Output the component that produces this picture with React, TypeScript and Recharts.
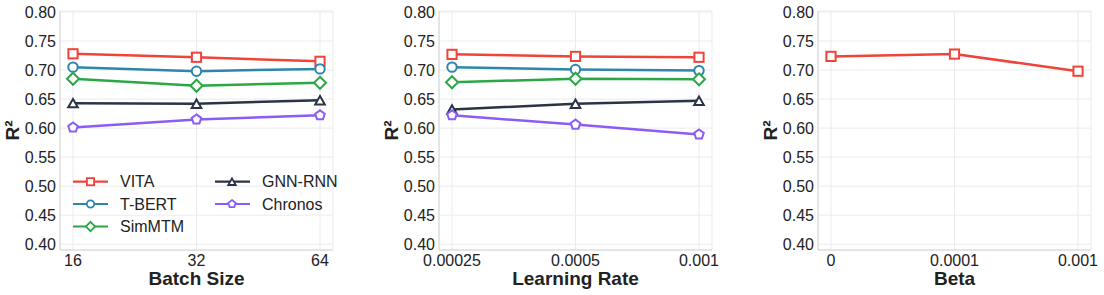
import React from 'react';
import { LineChart, Line, XAxis, YAxis, CartesianGrid } from 'recharts';

// ---- data ----
const batchSizes = ['16', '32', '64'];
const vitaBatch = [0.728, 0.722, 0.715];
const tbertBatch = [0.705, 0.698, 0.702];
const simmtmBatch = [0.685, 0.673, 0.678];
const gnnBatch = [0.643, 0.642, 0.648];
const chronosBatch = [0.601, 0.615, 0.622];

const learningRates = ['0.00025', '0.0005', '0.001'];
const vitaLR = [0.727, 0.7235, 0.722];
const tbertLR = [0.705, 0.701, 0.699];
const simmtmLR = [0.679, 0.685, 0.684];
const gnnLR = [0.632, 0.642, 0.647];
const chronosLR = [0.622, 0.606, 0.589];

const betas = ['0', '0.0001', '0.001'];
const vitaBeta = [0.7235, 0.7275, 0.698];

const yTicks = [0.4, 0.45, 0.5, 0.55, 0.6, 0.65, 0.7, 0.75, 0.8];

// ---- styling ----
const FONT = '"Liberation Sans", Arial, Helvetica, sans-serif';
const GRID = '#ebebeb';
const BORDER = '#d4d4d4';
const TEXT = '#222222';

type Shape = 'square' | 'circle' | 'diamond' | 'triangle' | 'pentagon';
const SERIES: { key: string; name: string; color: string; shape: Shape }[] = [
  { key: 'vita', name: 'VITA', color: '#F0433A', shape: 'square' },
  { key: 'tbert', name: 'T-BERT', color: '#2E86AB', shape: 'circle' },
  { key: 'simmtm', name: 'SimMTM', color: '#2BA744', shape: 'diamond' },
  { key: 'gnn', name: 'GNN-RNN', color: '#2B3446', shape: 'triangle' },
  { key: 'chronos', name: 'Chronos', color: '#8B5CF6', shape: 'pentagon' },
];

function markerEl(shape: Shape, cx: number, cy: number, color: string, s: number, sw: number, key?: any) {
  const common = { fill: '#ffffff', stroke: color, strokeWidth: sw, key };
  if (cx == null || cy == null) return <g key={key} />;
  switch (shape) {
    case 'square': {
      const h = 4.6 * s;
      return <rect {...common} x={cx - h} y={cy - h} width={2 * h} height={2 * h} />;
    }
    case 'circle':
      return <circle {...common} cx={cx} cy={cy} r={4.7 * s} />;
    case 'diamond': {
      const d = 6 * s;
      return <polygon {...common} points={`${cx},${cy - d} ${cx + d},${cy} ${cx},${cy + d} ${cx - d},${cy}`} />;
    }
    case 'triangle': {
      const w = 4.8 * s;
      const h = 4.2 * s;
      return <polygon {...common} strokeLinejoin="miter" points={`${cx},${cy - h} ${cx + w},${cy + h} ${cx - w},${cy + h}`} />;
    }
    case 'pentagon': {
      const r = 5 * s;
      const pts = [0, 1, 2, 3, 4]
        .map((k) => {
          const a = ((-90 + k * 72) * Math.PI) / 180;
          return `${cx + r * Math.cos(a)},${cy + r * Math.sin(a)}`;
        })
        .join(' ');
      return <polygon {...common} points={pts} />;
    }
  }
  return <g key={key} />;
}

function buildRows(cats: string[], cols: Record<string, number[]>) {
  return cats.map((c, i) => {
    const row: Record<string, any> = { cat: c };
    Object.keys(cols).forEach((k) => {
      row[k] = cols[k][i];
    });
    return row;
  });
}

const batchData = buildRows(batchSizes, {
  vita: vitaBatch,
  tbert: tbertBatch,
  simmtm: simmtmBatch,
  gnn: gnnBatch,
  chronos: chronosBatch,
});
const lrData = buildRows(learningRates, {
  vita: vitaLR,
  tbert: tbertLR,
  simmtm: simmtmLR,
  gnn: gnnLR,
  chronos: chronosLR,
});
const betaData = buildRows(betas, { vita: vitaBeta });

function Panel({
  data,
  keys,
  xTitle,
  width,
  marginRight,
}: {
  data: any[];
  keys: string[];
  xTitle: string;
  width: number;
  marginRight: number;
}) {
  return (
    <LineChart width={width} height={295} data={data} margin={{ top: 11, right: marginRight, bottom: 0, left: 0 }}>
      <CartesianGrid stroke={GRID} strokeWidth={1} />
      <XAxis
        dataKey="cat"
        type="category"
        padding={{ left: 13, right: 13 }}
        height={45}
        tickLine={false}
        tickSize={0}
        tickMargin={5}
        axisLine={{ stroke: BORDER, strokeWidth: 1 }}
        tick={{ fontSize: 16, fill: TEXT, fontFamily: FONT }}
        interval={0}
        label={{
          value: xTitle,
          position: 'insideBottom',
          offset: 10,
          style: { fontSize: 19, fontWeight: 'bold', fill: '#222222', fontFamily: FONT },
        }}
      />
      <XAxis xAxisId="top" orientation="top" height={0} tick={false} tickLine={false} axisLine={{ stroke: BORDER, strokeWidth: 1 }} />
      <YAxis
        type="number"
        domain={[0.39, 0.8017]}
        allowDataOverflow
        ticks={yTicks}
        interval={0}
        width={60}
        tickLine={false}
        tickSize={0}
        tickMargin={4}
        axisLine={{ stroke: BORDER, strokeWidth: 1 }}
        tick={{ fontSize: 16, fill: TEXT, fontFamily: FONT }}
        tickFormatter={(v: number) => v.toFixed(2)}
        label={{
          value: 'R²',
          angle: -90,
          position: 'insideLeft',
          offset: 12,
          style: { textAnchor: 'middle', fontSize: 19, fontWeight: 'bold', fill: '#222222', fontFamily: FONT },
        }}
      />
      <YAxis yAxisId="right" orientation="right" width={0} tick={false} tickLine={false} axisLine={{ stroke: BORDER, strokeWidth: 1 }} />
      {SERIES.filter((s) => keys.includes(s.key)).map((s) => (
        <Line
          key={s.key}
          dataKey={s.key}
          name={s.name}
          stroke={s.color}
          strokeWidth={2.5}
          isAnimationActive={false}
          activeDot={false}
          dot={(p: any) => markerEl(s.shape, p.cx, p.cy, s.color, 1, 2, `${s.key}-${p.index}`)}
        />
      ))}
    </LineChart>
  );
}

function LegendOverlay() {
  const cols = [
    { x0: 73, x1: 108, mx: 90.5, tx: 120 },
    { x0: 215, x1: 250, mx: 232, tx: 262 },
  ];
  const rows = [181.7, 204, 226.5];
  const placement = [
    [0, 0],
    [0, 1],
    [0, 2],
    [1, 0],
    [1, 1],
  ];
  return (
    <svg width={370} height={295} style={{ position: 'absolute', left: 0, top: 0, pointerEvents: 'none' }}>
      {SERIES.map((s, i) => {
        const [c, r] = placement[i];
        const col = cols[c];
        const y = rows[r];
        return (
          <g key={s.key}>
            <line x1={col.x0} x2={col.x1} y1={y} y2={y} stroke={s.color} strokeWidth={2.2} />
            {markerEl(s.shape, col.mx, y, s.color, 0.78, 1.8)}
            <text x={col.tx} y={y} dy="0.36em" fontSize={16} fill={TEXT} fontFamily={FONT}>
              {s.name}
            </text>
          </g>
        );
      })}
    </svg>
  );
}

export default function App() {
  return (
    <div
      style={{
        position: 'absolute',
        left: 0,
        top: 0,
        width: 1104,
        height: 295,
        background: '#ffffff',
        overflow: 'hidden',
        fontFamily: FONT,
      }}
    >
      <div style={{ position: 'absolute', left: 0, top: 0 }}>
        <Panel data={batchData} keys={['vita', 'tbert', 'simmtm', 'gnn', 'chronos']} xTitle="Batch Size" width={379} marginRight={46} />
      </div>
      <LegendOverlay />
      <div style={{ position: 'absolute', left: 379, top: 0 }}>
        <Panel data={lrData} keys={['vita', 'tbert', 'simmtm', 'gnn', 'chronos']} xTitle="Learning Rate" width={379} marginRight={46} />
      </div>
      <div style={{ position: 'absolute', left: 758, top: 0 }}>
        <Panel data={betaData} keys={['vita']} xTitle="Beta" width={346} marginRight={13} />
      </div>
    </div>
  );
}
